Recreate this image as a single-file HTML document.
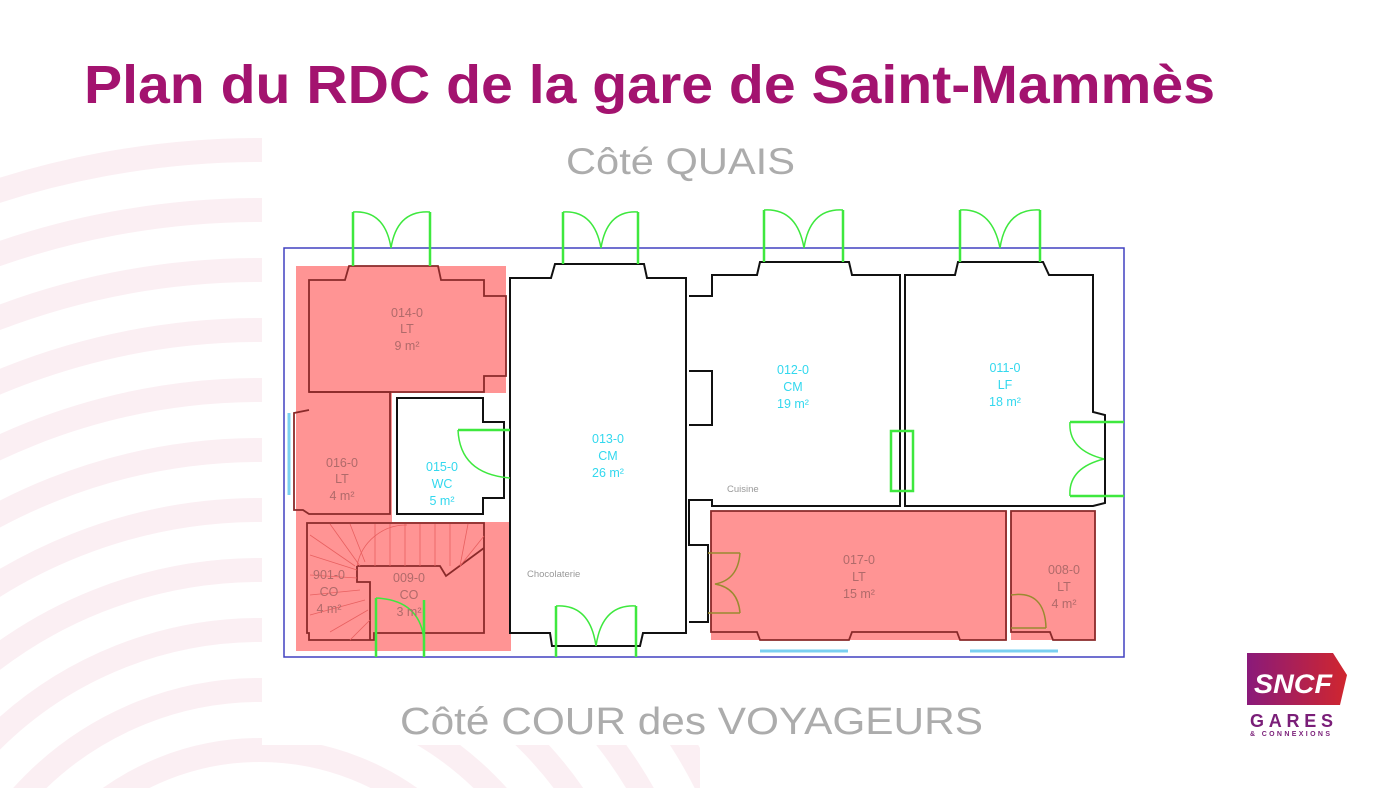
<!DOCTYPE html>
<html><head><meta charset="utf-8"><style>
html,body{margin:0;padding:0;background:#fff;width:1400px;height:788px;overflow:hidden}
svg{display:block;overflow:hidden}
text{font-family:"Liberation Sans",sans-serif}
</style></head><body>
<svg width="1400" height="788" viewBox="0 0 1400 788" xmlns="http://www.w3.org/2000/svg">
<defs>
<clipPath id="bgc"><path d="M0 100H262V745H700V788H0Z"/></clipPath>
<linearGradient id="lg" x1="0" x2="1" y1="0" y2="0"><stop offset="0" stop-color="#8a1a7a"/><stop offset="1" stop-color="#d0262e"/></linearGradient>
</defs>
<g clip-path="url(#bgc)" fill="none" stroke="#fbeff3" stroke-width="24">
<circle cx="260" cy="1010" r="80"/><circle cx="260" cy="1010" r="140"/><circle cx="260" cy="1010" r="200"/><circle cx="260" cy="1010" r="260"/><circle cx="260" cy="1010" r="320"/><circle cx="260" cy="1010" r="380"/><circle cx="260" cy="1010" r="440"/><circle cx="260" cy="1010" r="500"/><circle cx="260" cy="1010" r="560"/><circle cx="260" cy="1010" r="620"/><circle cx="260" cy="1010" r="680"/><circle cx="260" cy="1010" r="740"/><circle cx="260" cy="1010" r="800"/><circle cx="260" cy="1010" r="860"/>
</g>
<text x="84" y="103" font-size="54" font-weight="bold" fill="#a3136f" textLength="1131" lengthAdjust="spacingAndGlyphs">Plan du RDC de la gare de Saint-Mammès</text>
<text x="566" y="174" font-size="37" fill="#acacac" textLength="229" lengthAdjust="spacingAndGlyphs">Côté QUAIS</text>
<text x="400" y="734" font-size="38" fill="#acacac" textLength="583" lengthAdjust="spacingAndGlyphs">Côté COUR des VOYAGEURS</text>

<rect x="284" y="248" width="840" height="409" fill="none" stroke="#4040c0" stroke-width="1.5"/>
<g fill="#ff9494">
<rect x="296" y="266" width="210" height="127"/>
<rect x="296" y="393" width="96" height="130"/>
<rect x="296" y="522" width="215" height="129"/>
<rect x="711" y="511" width="296" height="129"/>
<rect x="1011" y="511" width="84" height="129"/>
</g>
<g fill="none" stroke="#8a2a2a" stroke-width="1.8">
<path d="M309 392V280H345L349 266H438L441 280H484V296H506V376H484V392Z"/>
<path d="M309 392H390V514H309L303 510H294V413L309 410"/>
<path d="M307 523H484V633H374V640H309V633H307Z"/>
<path d="M357 566H440L446 576L484 548M357 566V582H370V640"/>
<path d="M711 511H1006V640H960L957 632H852L849 640H760L757 632H711Z"/>
<path d="M1011 511H1095V640H1053L1050 632H1011Z"/>
</g>
<g fill="none" stroke="#e86060" stroke-width="0.8">
<path d="M310 535L355 566M330 524L360 566M350 524L365 562M375 524V566M390 524V566M405 524V566M420 524V566M435 524V566M450 524V566M468 524L460 566M484 536L460 566M310 555L357 570M310 575L357 578M310 595L360 590M310 615L365 600M330 632L368 610M350 640L370 620"/>
<path d="M357 566A50 50 0 0 1 407 525"/>
</g>
<g fill="none" stroke="#111" stroke-width="2">
<path d="M397 398H483V422H504V498H483V514H397Z"/>
<path d="M510 278H551L555 264H644L647 278H686V633H643L640 646H552L550 633H510Z"/>
<path d="M689 296H712V275H757L760 262H849L852 275H900V506H712V500H689V545H708V622H689"/>
<path d="M689 371H712V425H689"/>
<path d="M905 275H955L958 262H1043L1049 275H1093V412L1105 415V503L1093 506H905Z"/>
</g>
<g fill="none" stroke="#3ee83e" stroke-width="2.5">
<path d="M353 212V266M430 212V266M563 212V264M638 212V264M764 210V262M843 210V262M960 210V262M1040 210V262M556 606V657M636 606V657M458 430H510M1070 422H1124M1070 496H1124M376 598V657M424 600V657"/>
<rect x="891" y="431" width="22" height="60"/>
</g>
<g fill="none" stroke="#3ee83e" stroke-width="1.5">
<path d="M353 212Q385 210 391 248Q397 210 430 212M563 212Q594 210 601 248Q607 210 638 212M764 210Q797 208 804 248Q810 208 843 210M960 210Q992 208 1000 248Q1006 208 1040 210M556 606Q590 604 596 646Q602 604 636 606M458 430Q460 474 510 478M1070 422Q1068 450 1104 459Q1068 468 1070 496M376 598Q420 600 424 640"/>
</g>
<g fill="none" stroke="#9a8a30" stroke-width="1.5">
<path d="M708 553H740M708 613H740M740 553Q738 580 715 584Q738 588 740 613M1011 595Q1045 590 1046 628M1011 628H1046"/>
</g>
<g stroke="#7ad0f0" stroke-width="3"><path d="M289 413V495M760 651H848M970 651H1058"/></g>

<g font-size="12.5" text-anchor="middle" fill="#b06a6a">
<text x="407" y="317">014-0</text><text x="407" y="333">LT</text><text x="407" y="350">9 m²</text>
<text x="342" y="467">016-0</text><text x="342" y="483">LT</text><text x="342" y="500">4 m²</text>
<text x="329" y="579">901-0</text><text x="329" y="596">CO</text><text x="329" y="613">4 m²</text>
<text x="409" y="582">009-0</text><text x="409" y="599">CO</text><text x="409" y="616">3 m²</text>
<text x="859" y="564">017-0</text><text x="859" y="581">LT</text><text x="859" y="598">15 m²</text>
<text x="1064" y="574">008-0</text><text x="1064" y="591">LT</text><text x="1064" y="608">4 m²</text>
</g>
<g font-size="12.5" text-anchor="middle" fill="#33d8ee">
<text x="442" y="471">015-0</text><text x="442" y="488">WC</text><text x="442" y="505">5 m²</text>
<text x="608" y="443">013-0</text><text x="608" y="460">CM</text><text x="608" y="477">26 m²</text>
<text x="793" y="374">012-0</text><text x="793" y="391">CM</text><text x="793" y="408">19 m²</text>
<text x="1005" y="372">011-0</text><text x="1005" y="389">LF</text><text x="1005" y="406">18 m²</text>
</g>
<g font-size="9.5" fill="#999"><text x="527" y="577">Chocolaterie</text><text x="727" y="492">Cuisine</text></g>

<path d="M1247 653H1333L1347 675L1340 705H1247Z" fill="url(#lg)"/>
<text x="1293" y="693" font-size="27" font-weight="bold" font-style="italic" fill="#fff" text-anchor="middle" textLength="78" lengthAdjust="spacingAndGlyphs">SNCF</text>
<text x="1250" y="727" font-size="18" font-weight="bold" fill="#7a1e78" textLength="83" lengthAdjust="spacing">GARES</text>
<text x="1250" y="736" font-size="7" font-weight="bold" fill="#7a1e78" textLength="80" lengthAdjust="spacing">&amp; CONNEXIONS</text>
</svg>
</body></html>
